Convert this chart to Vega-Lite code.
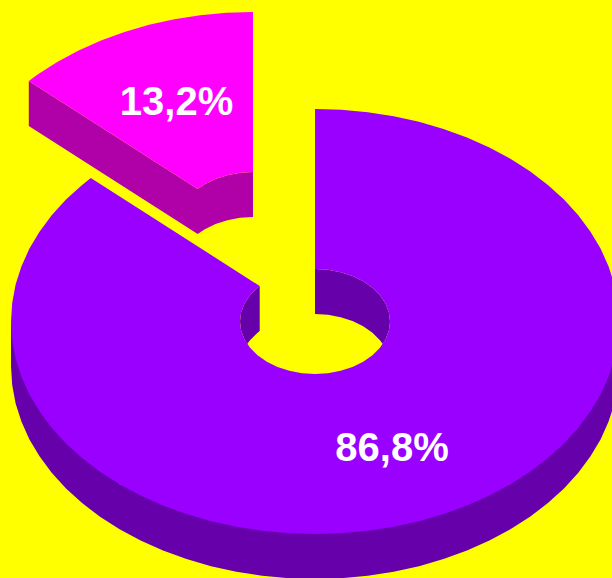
{"$schema":"https://vega.github.io/schema/vega-lite/v6.json","width":612,"height":578,"autosize":{"type":"fit","contains":"padding"},"padding":0,"background":"#ffff00","view":{"stroke":null},"config":{"view":{"stroke":null}},
"datasets":{
"mainSide":[{"x":619,"y":321.5},{"x":619,"y":366.5},{"x":617.8,"y":385},{"x":614.4,"y":403.4},{"x":608.6,"y":421.5},{"x":600.7,"y":439.2},{"x":590.5,"y":456.3},{"x":578.3,"y":472.75},{"x":564,"y":488.4},{"x":547.9,"y":503.1},{"x":530,"y":516.8},{"x":510.4,"y":529.3},{"x":489.4,"y":540.6},{"x":467,"y":550.5},{"x":443.5,"y":559.1},{"x":419,"y":566.2},{"x":393.7,"y":571.8},{"x":367.8,"y":575.8},{"x":341.5,"y":578.2},{"x":315,"y":579},{"x":288.5,"y":578.2},{"x":262.2,"y":575.8},{"x":236.3,"y":571.8},{"x":211,"y":566.2},{"x":186.5,"y":559.1},{"x":163,"y":550.5},{"x":140.6,"y":540.6},{"x":119.6,"y":529.3},{"x":100,"y":516.8},{"x":82.1,"y":503.1},{"x":66,"y":488.4},{"x":51.7,"y":472.75},{"x":39.5,"y":456.3},{"x":29.3,"y":439.2},{"x":21.4,"y":421.5},{"x":15.6,"y":403.4},{"x":12.2,"y":385},{"x":11,"y":366.5},{"x":11,"y":321.5},{"x":119.6,"y":484.3},{"x":510.4,"y":484.3}],
"wallRight":[{"x":315,"y":269},{"x":328,"y":269.8},{"x":340.65,"y":272.2},{"x":352.5,"y":276},{"x":363.2,"y":281.3},{"x":372.45,"y":287.75},{"x":379.95,"y":295.25},{"x":385.5,"y":303.5},{"x":388.9,"y":312.4},{"x":390,"y":321.5},{"x":388.9,"y":330.6},{"x":385.5,"y":339.5},{"x":382.8,"y":344},{"x":379.95,"y":340.25},{"x":372.45,"y":332.75},{"x":363.2,"y":326.3},{"x":352.5,"y":321},{"x":340.65,"y":317.2},{"x":328,"y":314.8},{"x":315,"y":314}],
"wallLeft":[{"x":259.7,"y":286},{"x":257.55,"y":287.75},{"x":250.05,"y":295.25},{"x":244.5,"y":303.5},{"x":241.1,"y":312.4},{"x":240,"y":321.5},{"x":241.1,"y":330.6},{"x":244.5,"y":339.5},{"x":247.2,"y":344},{"x":250.05,"y":340.25},{"x":257.55,"y":332.75},{"x":259.7,"y":331}],
"mainTop":[{"x":315,"y":109},{"x":341.5,"y":109.8},{"x":367.8,"y":112.2},{"x":393.7,"y":116.2},{"x":419,"y":121.8},{"x":443.5,"y":128.9},{"x":467,"y":137.5},{"x":489.4,"y":147.4},{"x":510.4,"y":158.7},{"x":530,"y":171.2},{"x":547.9,"y":184.9},{"x":564,"y":199.6},{"x":578.3,"y":215.25},{"x":590.5,"y":231.7},{"x":600.7,"y":248.8},{"x":608.6,"y":266.5},{"x":614.4,"y":284.6},{"x":617.8,"y":303},{"x":619,"y":321.5},{"x":617.8,"y":340},{"x":614.4,"y":358.4},{"x":608.6,"y":376.5},{"x":600.7,"y":394.2},{"x":590.5,"y":411.3},{"x":578.3,"y":427.75},{"x":564,"y":443.4},{"x":547.9,"y":458.1},{"x":530,"y":471.8},{"x":510.4,"y":484.3},{"x":489.4,"y":495.6},{"x":467,"y":505.5},{"x":443.5,"y":514.1},{"x":419,"y":521.2},{"x":393.7,"y":526.8},{"x":367.8,"y":530.8},{"x":341.5,"y":533.2},{"x":315,"y":534},{"x":288.5,"y":533.2},{"x":262.2,"y":530.8},{"x":236.3,"y":526.8},{"x":211,"y":521.2},{"x":186.5,"y":514.1},{"x":163,"y":505.5},{"x":140.6,"y":495.6},{"x":119.6,"y":484.3},{"x":100,"y":471.8},{"x":82.1,"y":458.1},{"x":66,"y":443.4},{"x":51.7,"y":427.75},{"x":39.5,"y":411.3},{"x":29.3,"y":394.2},{"x":21.4,"y":376.5},{"x":15.6,"y":358.4},{"x":12.2,"y":340},{"x":11,"y":321.5},{"x":12.2,"y":303},{"x":15.6,"y":284.6},{"x":21.4,"y":266.5},{"x":29.3,"y":248.8},{"x":39.5,"y":231.7},{"x":51.7,"y":215.25},{"x":66,"y":199.6},{"x":82.1,"y":184.9},{"x":90.8,"y":178},{"x":259.7,"y":286},{"x":257.55,"y":287.75},{"x":250.05,"y":295.25},{"x":244.5,"y":303.5},{"x":241.1,"y":312.4},{"x":240,"y":321.5},{"x":241.1,"y":330.6},{"x":244.5,"y":339.5},{"x":250.05,"y":347.75},{"x":257.55,"y":355.25},{"x":266.8,"y":361.7},{"x":277.5,"y":367},{"x":289.35,"y":370.8},{"x":302,"y":373.2},{"x":315,"y":374},{"x":328,"y":373.2},{"x":340.65,"y":370.8},{"x":352.5,"y":367},{"x":363.2,"y":361.7},{"x":372.45,"y":355.25},{"x":379.95,"y":347.75},{"x":385.5,"y":339.5},{"x":388.9,"y":330.6},{"x":390,"y":321.5},{"x":388.9,"y":312.4},{"x":385.5,"y":303.5},{"x":379.95,"y":295.25},{"x":372.45,"y":287.75},{"x":363.2,"y":281.3},{"x":352.5,"y":276},{"x":340.65,"y":272.2},{"x":328,"y":269.8},{"x":315,"y":269}],
"pinkSide":[{"x":28.8,"y":81},{"x":197.7,"y":189},{"x":204.8,"y":184.3},{"x":215.5,"y":179},{"x":227.35,"y":175.2},{"x":240,"y":172.8},{"x":253,"y":172},{"x":253,"y":217},{"x":240,"y":217.8},{"x":227.35,"y":220.2},{"x":215.5,"y":224},{"x":204.8,"y":229.3},{"x":197.7,"y":234},{"x":28.8,"y":126}],
"pinkTop":[{"x":28.8,"y":81},{"x":38,"y":74.2},{"x":57.6,"y":61.7},{"x":78.6,"y":50.4},{"x":101,"y":40.5},{"x":124.5,"y":31.9},{"x":149,"y":24.8},{"x":174.3,"y":19.2},{"x":200.2,"y":15.2},{"x":226.5,"y":12.8},{"x":253,"y":12},{"x":253,"y":172},{"x":240,"y":172.8},{"x":227.35,"y":175.2},{"x":215.5,"y":179},{"x":204.8,"y":184.3},{"x":197.7,"y":189}],
"labels":[{"x":392,"y":461,"share":"86,8%"},{"x":176.5,"y":115,"share":"13,2%"}]
},
"encoding":{
"x":{"field":"x","type":"quantitative","scale":{"domain":[0,612],"nice":false,"zero":false},"axis":null},
"y":{"field":"y","type":"quantitative","scale":{"domain":[578,0],"nice":false,"zero":false},"axis":null}
},
"layer":[
{"data":{"name":"mainSide"},"transform":[{"window":[{"op":"row_number","as":"i"}]}],"mark":{"type":"line","fill":"#6600aa","strokeWidth":0,"clip":true},"encoding":{"order":{"field":"i","type":"quantitative"}}},
{"data":{"name":"wallRight"},"transform":[{"window":[{"op":"row_number","as":"i"}]}],"mark":{"type":"line","fill":"#6600aa","strokeWidth":0,"clip":true},"encoding":{"order":{"field":"i","type":"quantitative"}}},
{"data":{"name":"wallLeft"},"transform":[{"window":[{"op":"row_number","as":"i"}]}],"mark":{"type":"line","fill":"#6600aa","strokeWidth":0,"clip":true},"encoding":{"order":{"field":"i","type":"quantitative"}}},
{"data":{"name":"mainTop"},"transform":[{"window":[{"op":"row_number","as":"i"}]}],"mark":{"type":"line","fill":"#9900ff","strokeWidth":0,"clip":true},"encoding":{"order":{"field":"i","type":"quantitative"}}},
{"data":{"name":"pinkSide"},"transform":[{"window":[{"op":"row_number","as":"i"}]}],"mark":{"type":"line","fill":"#b000a8","strokeWidth":0,"clip":true},"encoding":{"order":{"field":"i","type":"quantitative"}}},
{"data":{"name":"pinkTop"},"transform":[{"window":[{"op":"row_number","as":"i"}]}],"mark":{"type":"line","fill":"#ff00ff","strokeWidth":0,"clip":true},"encoding":{"order":{"field":"i","type":"quantitative"}}},
{"data":{"name":"labels"},"mark":{"type":"text","font":"Liberation Sans","fontWeight":"bold","fontSize":40,"fill":"#ffffff","align":"center","baseline":"alphabetic"},"encoding":{"text":{"field":"share","type":"nominal"}}}
]}
